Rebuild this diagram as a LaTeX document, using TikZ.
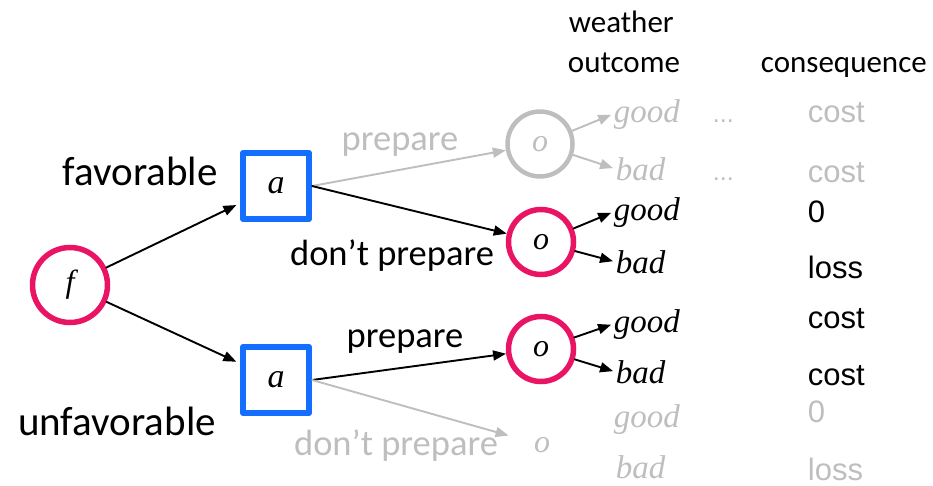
\documentclass[tikz,border=0pt]{standalone}
\usepackage{fontspec}
\setsansfont{Carlito}
\newfontfamily\arialfont{Liberation Sans}
\newfontfamily\timesfont{Liberation Serif}
\usetikzlibrary{arrows.meta}
\definecolor{chancepink}{RGB}{234,20,100}
\definecolor{actblue}{RGB}{20,110,255}
\definecolor{lightgr}{RGB}{190,190,190}

\begin{document}
\begin{tikzpicture}[x=1pt, y=-1pt, line join=round, line cap=round,
  >={Triangle[length=13pt,width=10pt]}, line width=1.9pt,
  chance/.style={circle, draw=chancepink, line width=5.5pt, minimum size=65pt, inner sep=0pt,
    font=\timesfont\itshape\fontsize{32}{38}\selectfont},
  ghost/.style={circle, draw=lightgr, line width=4.5pt, minimum size=65pt, inner sep=0pt, text=lightgr,
    font=\timesfont\itshape\fontsize{32}{38}\selectfont},
  choice/.style={rectangle, draw=actblue, line width=6pt, minimum size=66pt, inner sep=0pt,
    font=\timesfont\itshape\fontsize{34}{40}\selectfont},
  big/.style={inner sep=0pt, anchor=base, font=\sffamily\fontsize{41}{49}\selectfont},
  act/.style={inner sep=0pt, anchor=base, font=\sffamily\fontsize{36.5}{44}\selectfont},
  head/.style={inner sep=0pt, anchor=base west, font=\sffamily\fontsize{31}{37}\selectfont},
  wx/.style={inner sep=0pt, anchor=base west, font=\timesfont\itshape\fontsize{33}{40}\selectfont},
  val/.style={inner sep=0pt, anchor=base west, font=\arialfont\fontsize{31}{37}\selectfont}]
\useasboundingbox (0,0) rectangle (933,485);

% decision tree nodes
\node[chance, minimum size=75pt] (f) at (70,285) {f};
\node[choice] (a1) at (276,186) {a};
\node[choice] (a2) at (276,380) {a};
\node[ghost] (o1) at (540,144) {o};
\node[chance] (o2) at (541,242) {o};
\node[chance] (o3) at (541,349) {o};
\node[ghost, draw=none] (o4) at (542,445) {o};

% branch labels
\node[big] (lfav) at (140,185) {favorable};
\node[big] (lunf) at (117,435) {unfavorable};
\node[act, text=lightgr] (lp1) at (400,150) {prepare};
\node[act] (ldp1) at (392,265) {don’t prepare};
\node[act] (lp2) at (405,347) {prepare};
\node[act, text=lightgr] (ldp2) at (396,455) {don’t prepare};

% column heads
\node[head] (hw) at (568,32) {weather};
\node[head] (ho) at (567,72) {outcome};
\node[head] (hc) at (760,72) {consequence};

% weather outcomes
\node[wx, text=lightgr] (g1) at (613,122) {good};
\node[wx, text=lightgr] (b1) at (615,180) {bad};
\node[wx] (g2) at (613,220) {good};
\node[wx] (b2) at (615,273) {bad};
\node[wx] (g3) at (613,332) {good};
\node[wx] (b3) at (615,383) {bad};
\node[wx, text=lightgr] (g4) at (613,427) {good};
\node[wx, text=lightgr] (b4) at (615,478) {bad};

% consequences
\node[val, text=lightgr, font=\arialfont\fontsize{25}{30}\selectfont] (d1) at (712,122) {...};
\node[val, text=lightgr, font=\arialfont\fontsize{25}{30}\selectfont] (d2) at (712,180) {...};
\node[val, text=lightgr] (c1) at (807,122) {cost};
\node[val, text=lightgr] (c2) at (807,182) {cost};
\node[val] (c3) at (807,222) {0};
\node[val] (c4) at (807,278) {loss};
\node[val] (c5) at (807,328) {cost};
\node[val] (c6) at (807,385) {cost};
\node[val, text=lightgr] (c7) at (807,422) {0};
\node[val, text=lightgr] (c8) at (807,480) {loss};

% connectors
\draw[->, shorten >=4pt] (f) -- (a1);
\draw[->, shorten >=4pt] (f) -- (a2);
\draw[->, lightgr] (a1.east) -- (o1);
\draw[->] (a1.east) -- (o2);
\draw[->] (a2.east) -- (o3);
\draw[->, lightgr] (a2.east) -- (o4);
\draw[->, lightgr, shorten >=2pt] (o1) -- (g1.west);
\draw[->, lightgr, shorten >=2pt] (o1) -- (b1.west);
\draw[->, shorten >=2pt] (o2) -- (g2.west);
\draw[->, shorten >=2pt] (o2) -- (b2.west);
\draw[->, shorten >=2pt] (o3) -- (g3.west);
\draw[->, shorten >=2pt] (o3) -- (b3.west);
\end{tikzpicture}
\end{document}
